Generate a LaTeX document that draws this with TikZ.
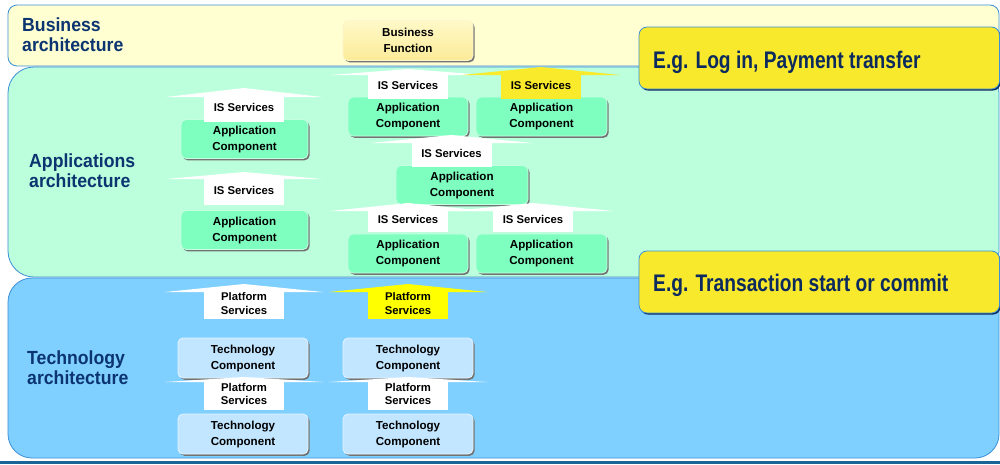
\documentclass[tikz,border=0pt]{standalone}
\usepackage{fontspec}
\setmainfont{Liberation Sans}
\newfontfamily\headfont{Liberation Sans}[FakeStretch=0.93]
\newfontfamily\callfont{Liberation Sans}[FakeStretch=0.8]
\usetikzlibrary{calc,shadows}
\definecolor{bandline}{HTML}{3A8FD6}
\definecolor{bizfill}{HTML}{FFFFD2}
\definecolor{appfill}{HTML}{BBFFDC}
\definecolor{techfill}{HTML}{80D0FF}
\definecolor{navy}{HTML}{0B3470}
\definecolor{callfill}{HTML}{F9E92C}
\definecolor{callnavy}{HTML}{0C2A5E}
\definecolor{compgreen}{HTML}{7FFFBF}
\definecolor{compblue}{HTML}{C2E6FF}
\definecolor{bizboxtop}{HTML}{FFF9C8}
\definecolor{bizboxbot}{HTML}{FBEB98}
\definecolor{svcyellow}{HTML}{FAEA2C}
\definecolor{platyellow}{HTML}{FFFF00}
\definecolor{footbar}{HTML}{1A6496}

% service arrow: label box with a wide flat arrow head on top
% #1 name, #2 centre x, #3 top y, #4 bottom y, #5 half head width, #6 head rise, #7 colour, #8 text
\newcommand\svcarrow[8]{%
  \node[svc, fill=#7, minimum height={#4-#3}, anchor=north,
    label={[svctext]center:#8}] (#1) at (#2,#3) {};
  \fill[#7] ($(#1.north)+(-#5,0)$) -- ($(#1.north)+(0,-#6)$) -- ($(#1.north)+(#5,0)$) -- cycle;
}

\begin{document}
\begin{tikzpicture}[x=1pt,y=-1pt,
  band/.style={draw=bandline, line width=0.8pt},
  head/.style={font=\headfont\bfseries\fontsize{19}{20}\selectfont, text=navy, align=left, anchor=west, inner sep=0},
  callout/.style={fill=callfill, draw=bandline, line width=0.8pt, rounded corners=8pt,
    drop shadow={shadow xshift=1.2pt, shadow yshift=-1.6pt, fill=callnavy, opacity=1}},
  calltext/.style={font=\callfont\bfseries\fontsize{24}{26}\selectfont, text=callnavy, anchor=base west, inner sep=0},
  comp/.style={rounded corners=5pt, minimum height=39pt, inner sep=0, align=center,
    font=\bfseries\fontsize{11.6}{16}\selectfont, line width=0.8pt,
    drop shadow={shadow xshift=1.6pt, shadow yshift=-1.8pt, fill=black!55, opacity=1}},
  appcomp/.style={comp, fill=compgreen, draw=white!55!compgreen},
  techcomp/.style={comp, fill=compblue, draw=white!55!compblue},
  svc/.style={inner sep=0, minimum width=80pt},
  svctext/.style={inner sep=0, align=center, yshift=2pt, font=\bfseries\fontsize{11.3}{13.5}\selectfont},
]
\useasboundingbox (0,0) rectangle (1000,464);

% layer bands
\path[band, fill=bizfill, rounded corners=9pt] (8,5) rectangle (999,66);
\path[band, fill=appfill, rounded corners=26pt] (8,67) rectangle (999,277);
\path[band, fill=techfill, rounded corners=24pt] (8,278) rectangle (999,458);
\fill[footbar] (0,460.5) rectangle (1000,464);

% band titles
\node[head] (bizlbl) at (22,34.5) {Business\\architecture};
\node[head] (applbl) at (29,170.5) {Applications\\architecture};
\node[head] (techlbl) at (27,367.5) {Technology\\architecture};

% example callouts
\path[callout] (639,27) rectangle (999.5,89);
\node[calltext] (ex1) at (653,68) {E.g. Log in, Payment transfer};
\path[callout] (639,251) rectangle (999.5,313);
\node[calltext] (ex2) at (653,291) {E.g. Transaction start or commit};

% business function
\node[comp, minimum width=130pt, minimum height=40pt, top color=bizboxtop, bottom color=bizboxbot,
  draw=white!50!bizboxbot] (bf) at (408,40.5) {Business\\Function};

% application components
\node[appcomp, minimum width=127pt] (appL1) at (244.5,139) {Application\\Component};
\node[appcomp, minimum width=127pt] (appL2) at (244.5,230) {Application\\Component};
\node[appcomp, minimum width=120pt] (appM1) at (408,116.5) {Application\\Component};
\node[appcomp, minimum width=131pt] (appR1) at (541.5,116.5) {Application\\Component};
\node[appcomp, minimum width=132pt] (appC) at (462,185) {Application\\Component};
\node[appcomp, minimum width=120pt] (appM2) at (408,253.5) {Application\\Component};
\node[appcomp, minimum width=131pt] (appR2) at (541.5,253.5) {Application\\Component};

% technology components
\node[techcomp, minimum width=130pt, minimum height=40pt] (tcL1) at (243,358) {Technology\\Component};
\node[techcomp, minimum width=130pt, minimum height=40pt] (tcR1) at (408,358) {Technology\\Component};
\node[techcomp, minimum width=130pt, minimum height=40pt] (tcL2) at (243,434) {Technology\\Component};
\node[techcomp, minimum width=130pt, minimum height=40pt] (tcR2) at (408,434) {Technology\\Component};

% IS services
\svcarrow{svcA}{244}{97}{122}{78}{9}{white}{IS Services}
\svcarrow{svcB}{244}{179}{205}{78}{7}{white}{IS Services}
\svcarrow{svcC}{408}{75}{99}{78}{6}{white}{IS Services}
\svcarrow{svcD}{541}{75}{99}{79}{8}{svcyellow}{IS Services}
\svcarrow{svcE}{451.5}{143}{167}{81}{8}{white}{IS Services}
\svcarrow{svcF}{408}{211}{232}{78}{8}{white}{IS Services}
\svcarrow{svcG}{533}{211}{232}{80}{8}{white}{IS Services}

% platform services
\svcarrow{platA}{244}{292}{319}{79}{8}{white}{Platform\\Services}
\svcarrow{platB}{408}{292}{319}{79}{8}{platyellow}{Platform\\Services}
\svcarrow{platC}{244}{382}{410}{79}{5}{white}{Platform\\Services}
\svcarrow{platD}{408}{382}{410}{79}{5}{white}{Platform\\Services}
\end{tikzpicture}
\end{document}
